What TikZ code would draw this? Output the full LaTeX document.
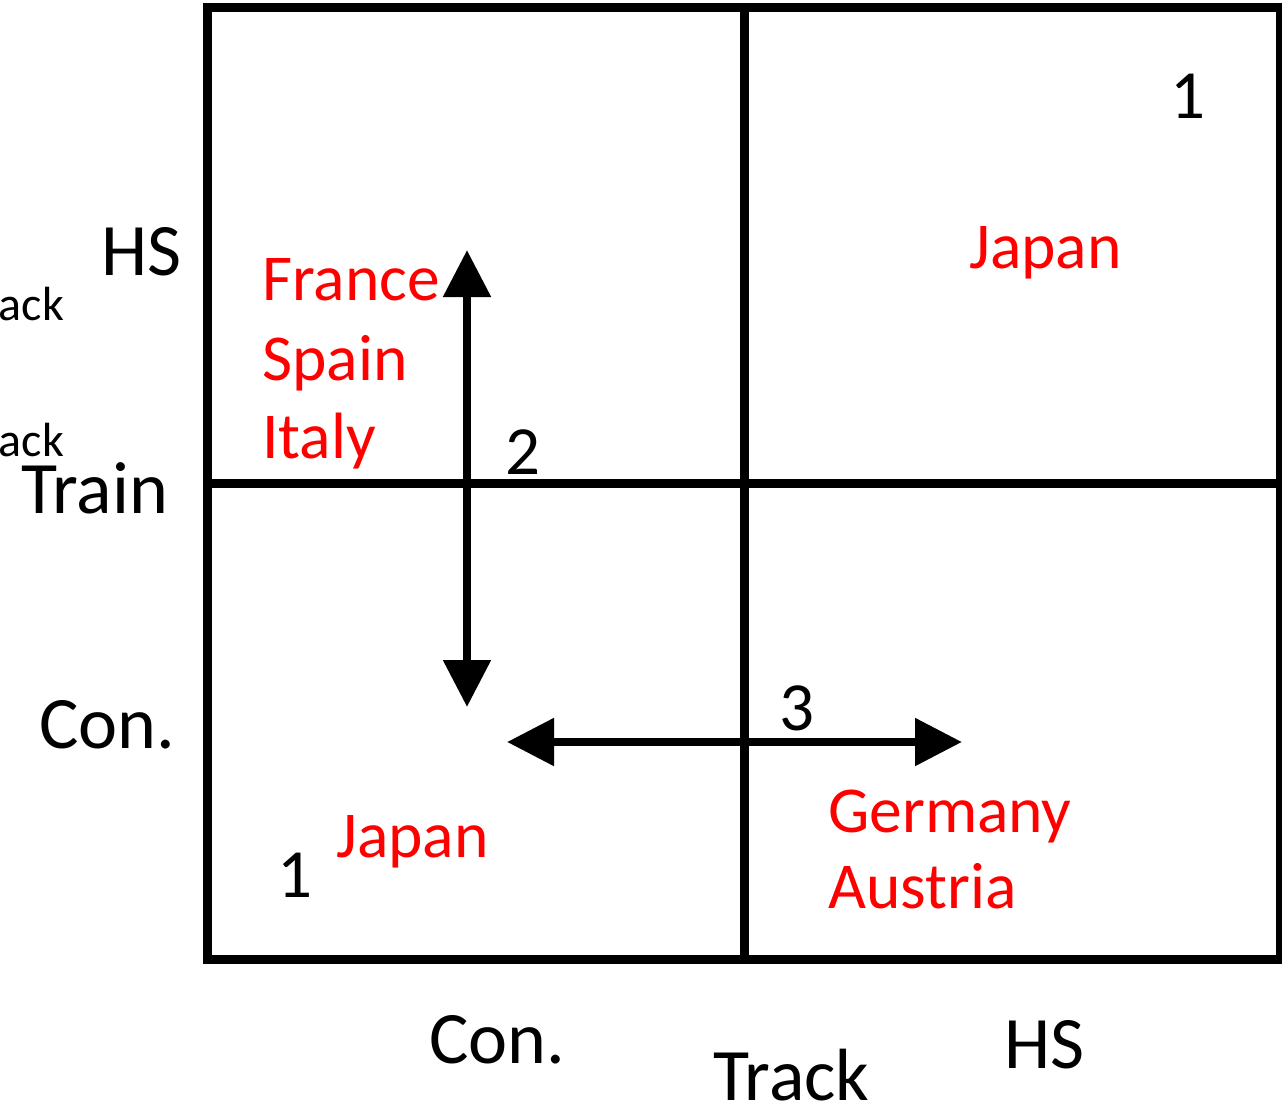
\documentclass[tikz,border=0pt]{standalone}
\usepackage{fontspec}
\setmainfont{Carlito}
\usetikzlibrary{arrows.meta}
\tikzset{
  grid/.style={line width=9pt, line join=miter},
  axislabel/.style={inner sep=0pt, font=\fontsize{74}{74}\selectfont},
  sublabel/.style={inner sep=0pt, font=\fontsize{48}{48}\selectfont},
  country/.style={inner sep=0pt, text=red, font=\fontsize{65.5}{65.5}\selectfont},
  rank/.style={inner sep=0pt, font=\fontsize{69}{69}\selectfont},
  move/.style={line width=8.5pt, {Triangle[length=47pt,width=46pt]}-{Triangle[length=47pt,width=46pt]}}
}
\begin{document}
\begin{tikzpicture}[x=1pt,y=-1pt]
  \useasboundingbox (0,0) rectangle (1282,1106);

  % 2x2 matrix
  \draw[grid] (207,7) rectangle (1280,959);
  \draw[grid] (744,7) -- (744,959);
  \draw[grid] (207,483) -- (1280,483);

  % vertical axis labels
  \node[axislabel, anchor=base west] (trainhs) at (101,275) {HS};
  \node[sublabel, anchor=base east] (trackA) at (64,320) {Track};
  \node[sublabel, anchor=base east] (trackB) at (64,456) {Track};
  \node[axislabel, anchor=base west] (train) at (21,513) {Train};
  \node[axislabel, anchor=base west] (traincon) at (39,748) {Con.};

  % horizontal axis labels
  \node[axislabel, anchor=base west] (trackcon) at (429,1063) {Con.};
  \node[axislabel, anchor=base west] (track) at (713,1100) {Track};
  \node[axislabel, anchor=base west] (trackhs) at (1004,1068) {HS};

  % countries
  \node[country, anchor=base west] (japanA) at (969,268) {Japan};
  \node[country, anchor=base west] (france) at (262,300) {France};
  \node[country, anchor=base west] (spain) at (262,380) {Spain};
  \node[country, anchor=base west] (italy) at (262,458) {Italy};
  \node[country, anchor=base west] (germany) at (828,832) {Germany};
  \node[country, anchor=base west] (austria) at (828,908) {Austria};
  \node[country, anchor=base west] (japanB) at (336,857) {Japan};

  % step numbers
  \node[rank, anchor=base west] (oneA) at (1170,118) {1};
  \node[rank, anchor=base west] (two) at (505,474) {2};
  \node[rank, anchor=base west] (three) at (779,730) {3};
  \node[rank, anchor=base west] (oneB) at (277,897) {1};

  % transitions
  \coordinate (vtop) at (467,250);
  \coordinate (vbot) at (467,707);
  \coordinate (hleft) at (507,742);
  \coordinate (hright) at (962,742);
  \draw[move] (vtop) -- (vbot);
  \draw[move] (hleft) -- (hright);
\end{tikzpicture}
\end{document}
